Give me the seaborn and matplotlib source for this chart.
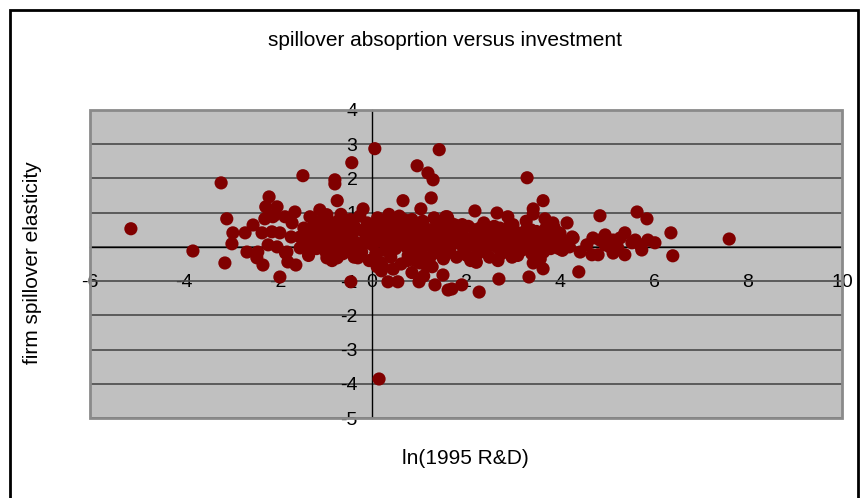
import numpy as np
import pandas as pd
import matplotlib
matplotlib.use("Agg")
import matplotlib.pyplot as plt
import seaborn as sns
from matplotlib.patches import Rectangle

# outlying firms
outer_x = [-5.13, -3.81, -3.21, -3.09, -3.13, -2.96, -2.98, -2.70, -2.53, -2.66,
           -2.43, -2.34, -2.32, -2.19, -2.26, -2.02, -2.28, -2.11, -2.13, -1.96,
           -2.21, -2.02, -1.96, -1.81, -1.79, -1.62, -1.47, -1.64, -1.85, -1.70,
           -1.72, -1.53, -1.53, -1.32, -1.26, -1.32, -1.11, -0.96, -0.96, -0.79,
           -0.79, -0.74, -0.43, -0.19, -0.45, -0.74, -0.30, 0.06, 0.15, 1.43,
           0.96, 1.19, 1.30, 1.26, 0.66, 1.04, 1.57, 0.11, 0.23, 0.34,
           0.55, 1.00, 1.34, 1.51, 1.62, 1.28, 1.02, 3.30, 3.64, 3.43,
           3.43, 2.19, 2.66, 2.89, 1.60, 3.68, 3.85, 4.15, 1.70, 1.91,
           2.28, 2.70, 3.34, 3.64, 3.43, 4.85, 5.64, 5.85, 4.40, 4.26,
           4.43, 6.36, 6.40, 4.28, 7.60, -2.07, -2.45, -1.84, -1.41, 0.20,
           0.45, 0.85, 1.10]
outer_y = [0.53, -0.12, 1.87, 0.82, -0.47, 0.41, 0.09, 0.41, 0.64, -0.15,
           -0.15, 0.41, -0.53, 1.46, 1.17, 1.17, 0.82, 0.88, 0.44, 0.41,
           0.06, 0.00, -0.88, -0.15, -0.44, -0.53, 2.08, 1.02, 0.88, 0.70,
           0.29, 0.29, -0.03, 0.88, 0.58, 0.00, 1.08, -0.32, 0.94, 1.96,
           1.84, 1.35, 2.46, 1.11, -1.02, -0.32, -0.32, 2.87, -3.86, 2.84,
           2.37, 2.16, 1.96, 1.43, 1.35, 1.11, 0.88, -0.58, -0.58, -1.02,
           -1.02, -1.02, -1.11, -0.82, -1.26, -0.58, -0.47, 2.02, 1.35, 1.11,
           0.96, 1.05, 0.99, 0.88, 0.88, 0.82, 0.70, 0.70, -1.23, -1.11,
           -1.32, -0.94, -0.88, -0.64, -0.47, 0.91, 1.02, 0.82, -0.73, 0.29,
           -0.15, 0.41, -0.26, 0.26, 0.23, 0.93, -0.32, -0.18, 0.12, -0.70,
           -0.65, -0.75, -0.85]

# the dense band between about -1.5 and 4.2
band_x = [-1.45, -1.40, -1.35, -1.30, -1.22, -1.18, -1.12, -1.05, -1.02, -0.98,
          -0.92, -0.88, -0.85, -0.80, -0.75, -0.70, -0.66, -0.62, -0.58, -0.55,
          -0.50, -0.46, -0.42, -0.38, -0.35, -0.30, -0.26, -0.22, -0.18, -0.14,
          -0.10, -0.06, -0.03, 0.02, 0.05, 0.08, 0.12, 0.15, 0.18, 0.22,
          0.25, 0.28, 0.32, 0.36, 0.40, 0.43, 0.47, 0.50, 0.54, 0.58,
          0.62, 0.65, 0.70, 0.73, 0.77, 0.80, 0.85, 0.88, 0.92, 0.96,
          1.00, 1.04, 1.08, 1.12, 1.16, 1.20, 1.25, 1.30, 1.34, 1.38,
          1.42, 1.47, 1.52, 1.56, 1.60, 1.65, 1.70, 1.75, 1.80, 1.85,
          1.90, 1.95, 2.00, 2.05, 2.10, 2.15, 2.20, 2.25, 2.30, 2.35,
          2.40, 2.45, 2.50, 2.55, 2.60, 2.65, 2.70, 2.75, 2.80, 2.85,
          2.90, 2.95, 3.00, 3.05, 3.10, 3.15, 3.20, 3.25, 3.30, 3.35,
          3.40, 3.45, 3.50, 3.55, 3.60, 3.65, 3.70, 3.75, 3.80, 3.85,
          3.92, 4.00, 4.05, 4.12, 4.20,
          -1.25, -1.00, -0.78, -0.60, -0.40, -0.20, 0.00, 0.20, 0.30, 0.45,
          0.55, 0.68, 0.82, 0.95, 1.10, 1.22, 1.36, 1.50, 1.62, 1.78,
          1.92, 2.08, 2.22, 2.38, 2.52, 2.68, 2.82, 2.98, 3.12, 3.28,
          3.42, 3.58, 3.72, 3.88, 4.02,
          -1.38, -1.15, -0.95, -0.72, -0.52, -0.32, -0.12, 0.10, 0.38, 0.60,
          0.75, 0.90, 1.05, 1.18, 1.32, 1.45, 1.58, 1.72, 1.88, 2.02,
          2.18, 2.32, 2.48, 2.62, 2.78, 2.92, 3.08, 3.22, 3.38, 3.52,
          3.68, 3.82, 3.98, -1.08, -0.85, -0.45, 0.15, 0.52, 0.98, 1.40,
          1.82, 2.28, 2.72, 3.18, 3.62]
band_y = [0.55, 0.10, -0.25, 0.35, 0.75, -0.05, 0.45, 0.15, 0.85, -0.15,
          0.55, 0.25, -0.40, 0.70, 0.05, 0.40, 0.95, -0.20, 0.60, 0.20,
          -0.05, 0.80, 0.35, -0.30, 0.55, 0.10, 0.90, -0.15, 0.45, 0.20,
          0.70, -0.40, 0.30, 0.05, 0.60, -0.20, 0.85, 0.35, -0.45, 0.15,
          0.65, -0.10, 0.40, 0.95, -0.30, 0.20, 0.70, -0.05, 0.45, 0.90,
          -0.50, 0.25, 0.60, 0.00, -0.25, 0.40, 0.80, 0.10, -0.40, 0.55,
          0.20, -0.15, 0.75, 0.35, -0.55, 0.05, 0.50, -0.20, 0.25, 0.70,
          -0.05, 0.40, -0.35, 0.15, 0.55, -0.10, 0.30, 0.65, -0.30, 0.10,
          0.45, -0.15, 0.25, 0.60, -0.40, 0.05, 0.35, -0.20, 0.55, 0.15,
          -0.05, 0.40, -0.30, 0.20, 0.60, 0.00, 0.35, -0.20, 0.15, 0.50,
          -0.10, 0.30, 0.65, 0.05, -0.25, 0.40, 0.15, -0.05, 0.55, 0.25,
          -0.20, 0.10, 0.45, 0.00, 0.30, -0.15, 0.55, 0.15, -0.05, 0.35,
          0.10, 0.40, -0.10, 0.15, 0.00,
          0.20, 0.40, -0.10, 0.30, 0.65, 0.05, 0.45, 0.70, -0.05, 0.50,
          0.10, 0.80, -0.10, 0.30, 0.60, -0.35, 0.45, 0.10, 0.80, 0.20,
          0.65, 0.10, -0.45, 0.70, 0.05, -0.40, 0.40, -0.30, 0.20, 0.75,
          0.35, -0.35, 0.05, 0.55, 0.25,
          0.30, 0.60, 0.10, 0.75, 0.45, -0.15, 0.55, 0.25, 0.60, 0.35,
          -0.40, 0.65, 0.45, 0.15, 0.85, 0.60, -0.20, 0.45, 0.30, -0.25,
          0.50, 0.30, 0.55, 0.25, 0.05, 0.60, 0.40, 0.35, 0.50, 0.25,
          0.40, 0.20, -0.05, 0.30, 0.50, 0.10, 0.55, 0.20, 0.05, 0.20,
          0.55, 0.10, 0.55, -0.10, 0.10]

# the run of firms between 4.5 and 6
right_x = [4.57, 4.68, 4.70, 4.81, 4.96, 4.96, 5.13, 5.13, 5.28, 5.38,
           5.38, 5.53, 5.70, 5.74, 5.87, 6.02, 4.85, 5.06, 5.23, 5.60]
right_y = [0.06, -0.23, 0.26, -0.23, 0.35, 0.06, 0.20, -0.18, 0.26, 0.41,
           -0.23, 0.12, 0.06, -0.09, 0.20, 0.12, 0.20, 0.00, -0.03, 0.20]

x_ticks = [-6, -4, -2, 0, 2, 4, 6, 8, 10]
y_ticks = [-5, -4, -3, -2, -1, 0, 1, 2, 3, 4]

df = pd.DataFrame({
    "lnrd": outer_x + band_x + right_x,
    "elast": outer_y + band_y + right_y,
})

sns.set_style("white")
plt.rcParams["font.family"] = ["Liberation Sans", "DejaVu Sans"]
plt.rcParams["axes.unicode_minus"] = False
plt.rcParams["text.color"] = "black"
plt.rcParams["xtick.color"] = "black"
plt.rcParams["ytick.color"] = "black"

fig = plt.figure(figsize=(8.68, 4.98), dpi=100)
ax = fig.add_axes([90 / 868, 1 - 418 / 498, 752 / 868, 308 / 498])
ax.set_facecolor("#C0C0C0")

sns.scatterplot(data=df, x="lnrd", y="elast", ax=ax, color="#800000",
                s=90, linewidth=0, edgecolor="none", zorder=3, legend=False)

ax.set_xlim(-6, 10)
ax.set_ylim(-5, 4)
ax.set_xticks(x_ticks)
ax.set_yticks(y_ticks)
ax.set_xlabel("")
ax.set_ylabel("")

# gridlines on every whole number of elasticity
ax.set_axisbelow(True)
ax.yaxis.grid(True, color="#4a4a4a", lw=1.2)
ax.xaxis.grid(False)

# axes cross at the origin like the excel original
for side in ["left", "bottom"]:
    ax.spines[side].set_position(("data", 0))
    ax.spines[side].set_color("black")
    ax.spines[side].set_linewidth(1.0)
    ax.spines[side].set_zorder(2.5)
ax.spines["top"].set_visible(False)
ax.spines["right"].set_visible(False)
ax.add_patch(Rectangle((0, 0), 1, 1, transform=ax.transAxes, fill=False,
                       ec="#8a8a8a", lw=2, clip_on=False, zorder=4))

ax.tick_params(axis="x", direction="out", length=4.5, width=1, colors="black",
               pad=15, labelsize=14)
ax.tick_params(axis="y", direction="out", length=4.5, width=1, colors="black",
               pad=6, labelsize=14)

fig.text(445 / 868, 1 - 40 / 498, "spillover absoprtion versus investment",
         ha="center", va="center", fontsize=15, color="black")
fig.text(465 / 868, 1 - 458 / 498, "ln(1995 R&D)", ha="center", va="center",
         fontsize=15, color="black")
fig.text(33 / 868, 1 - 263 / 498, "firm spillover elasticity", ha="center",
         va="center", rotation=90, fontsize=15, color="black")

# outer chart frame, its bottom edge runs off the picture
fig.patches.append(Rectangle((10 / 868, -0.05), 848 / 868, 1.05 - 10 / 498,
                             transform=fig.transFigure, fill=False,
                             ec="black", lw=2))

fig.savefig("out.png", dpi=100)
